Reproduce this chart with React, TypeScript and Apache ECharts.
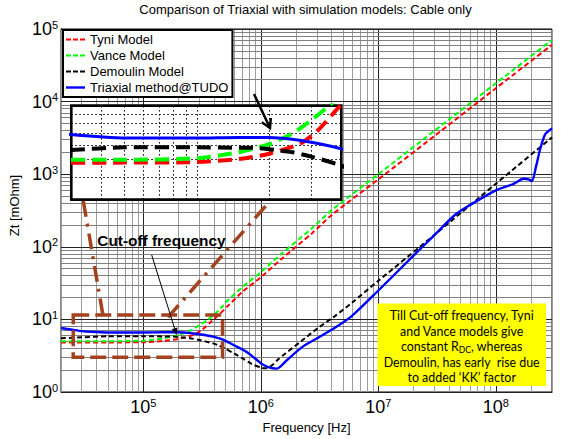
import React, { useEffect, useRef } from 'react';
import * as echarts from 'echarts';

const TITLE = 'Comparison of Triaxial with simulation models: Cable only';
const X_NAME = 'Frequency [Hz]';
const Y_NAME = 'Zt [mOhm]';
const NAME_TYNI = 'Tyni Model';
const NAME_VANCE = 'Vance Model';
const NAME_DEMOULIN = 'Demoulin Model';
const NAME_TRIAXIAL = 'Triaxial method@TUDO';

// Frequency [Hz] / transfer impedance Zt [mOhm]
const tyniFreq = [2e4, 5e4, 1e5, 1.5e5, 2e5, 2.7e5, 3.2e5, 3.8e5, 4.5e5, 5.28e5, 7e5, 1.02e6, 1.5e6, 2.72e6, 4.02e6, 1e7, 3e7, 1e8, 3e8];
const tyniZt = [4.8, 4.82, 4.85, 5.05, 5.4, 6.15, 7.3, 9.4, 12, 15.5, 24, 39, 68, 153, 275, 850, 3360, 15300, 60400];

const vanceFreq = [2e4, 5e4, 1e5, 1.5e5, 2e5, 2.5e5, 3e5, 3.5e5, 4e5, 4.5e5, 5.28e5, 7e5, 1.02e6, 1.5e6, 2.72e6, 4.02e6, 1e7, 3e7, 1e8, 3e8];
const vanceZt = [5.0, 5.0, 5.1, 5.5, 6.1, 7.0, 8.3, 9.8, 11.6, 13.9, 18.5, 28, 46, 80, 180, 320, 1000, 3960, 17900, 70700];

const demoulinFreq = [2e4, 3e4, 5e4, 1e5, 1.5e5, 1.83e5, 2.26e5, 2.51e5, 3e5, 3.93e5, 4.35e5, 5e5, 6.03e5, 7e5, 8.36e5, 1.02e6, 1.1e6, 1.24e6, 1.4e6, 1.6e6, 2.23e6, 3.1e6, 4.3e6, 5.97e6, 1e7, 3e7, 1e8, 3e8];
const demoulinZt = [5.5, 5.66, 5.86, 5.86, 5.83, 5.8, 5.6, 5.5, 5.2, 4.68, 4.4, 3.95, 3.34, 2.9, 2.44, 2.15, 2.12, 2.32, 2.8, 3.34, 5.08, 7.73, 11.2, 17.0, 34, 146, 740, 3214];

const triaxialFreq = [2e4, 2.5e4, 3e4, 4e4, 5e4, 7e4, 1e5, 1.5e5, 2e5, 2.5e5, 3e5, 3.5e5, 4e5, 4.65e5, 5.5e5, 6.44e5, 7.5e5, 8.36e5, 1.02e6, 1.16e6, 1.36e6, 1.45e6, 1.6e6, 2.23e6, 3.1e6, 4.3e6, 5.97e6, 1e7, 2e7, 3e7, 4.5e7, 6.25e7, 1e8, 1.4e8, 1.72e8, 1.9e8, 2.02e8, 2.2e8, 2.38e8, 2.63e8, 3e8];
const triaxialZt = [7.6, 7.2, 6.9, 6.7, 6.6, 6.6, 6.6, 6.65, 6.65, 6.5, 6.25, 6.0, 5.75, 5.35, 4.7, 4.12, 3.6, 3.17, 2.44, 2.2, 2.1, 2.2, 2.57, 4.12, 5.64, 7.73, 11.2, 25, 76, 145, 276, 390, 600, 730, 865, 850, 805, 1300, 2224, 3565, 4266];

// axis ranges and decade tick exponents
const X_MIN = 2e4;
const X_MAX = 3e8;
const Y_MIN = 1;
const Y_MAX = 1e5;
const X_DECADES = [5, 6, 7, 8];
const Y_DECADES = [0, 1, 2, 3, 4, 5];

// zoomed inset ranges
const INSET_X_MIN = 3e4;
const INSET_X_MAX = 4e5;
const INSET_Y_MIN = 3;
const INSET_Y_MAX = 10;
const INSET_Y_GRID = [4, 5, 6, 7, 8, 9];

// highlighted cut-off region (data coords)
const CUTOFF_F = [2.54e4, 4.73e5];
const CUTOFF_Z = [3.0, 11.5];

const FONT = 'Liberation Sans, Arial, Helvetica, sans-serif';
const BROWN = '#A3421F';
const ICON_DASHED = 'path://M0,0h5v2h-5zM7,0h5v2h-5zM14,0h5v2h-5z';
const ICON_SOLID = 'path://M0,0h19v2.4h-19z';

function logGrid(min: number, max: number) {
  const out: { v: number; major: boolean }[] = [];
  for (let e = Math.floor(Math.log10(min)); e <= Math.ceil(Math.log10(max)); e++) {
    for (let m = 1; m <= 9; m++) {
      const v = m * Math.pow(10, e);
      if (v >= min * 0.999 && v <= max * 1.001) out.push({ v, major: m === 1 });
    }
  }
  return out;
}

const pairs = (f: number[], z: number[]) => f.map((x, i) => [x, z[i]]);

function powLabel(decades: number[]) {
  return (v: number) => {
    const e = Math.log10(v);
    const r = Math.round(e);
    if (Math.abs(e - r) > 1e-6 || decades.indexOf(r) < 0) return '';
    return `{b|10}{s|${r}}`;
  };
}

const labelRich = {
  b: { fontSize: 18, fontFamily: FONT, color: '#000', lineHeight: 20 },
  s: { fontSize: 11, fontFamily: FONT, color: '#000', verticalAlign: 'top', lineHeight: 12 },
};

export default function App() {
  const ref = useRef<HTMLDivElement>(null);
  useEffect(() => {
    document.body.style.margin = '0';
    const chart = echarts.init(ref.current!, undefined, { renderer: 'svg' });

    const mainV = logGrid(X_MIN, X_MAX).map((g) => ({
      xAxis: g.v,
      lineStyle: { color: g.major ? '#222' : '#9c9c9c', width: 1, type: 'solid' },
    }));
    const mainH = logGrid(Y_MIN, Y_MAX).map((g) => ({
      yAxis: g.v,
      lineStyle: { color: g.major ? '#222' : '#808080', width: 1, type: 'solid' },
    }));
    const insetV = logGrid(INSET_X_MIN, INSET_X_MAX)
      .filter((g) => g.v > INSET_X_MIN * 1.01 && g.v < INSET_X_MAX * 0.99)
      .map((g) => ({ xAxis: g.v }));
    const insetH = INSET_Y_GRID.map((v) => ({ yAxis: v }));

    const line = (
      name: string,
      f: number[],
      z: number[],
      color: string,
      dashed: boolean,
      inset: boolean
    ) => ({
      type: 'line',
      name,
      data: pairs(f, z),
      xAxisIndex: inset ? 1 : 0,
      yAxisIndex: inset ? 1 : 0,
      showSymbol: false,
      symbol: 'none',
      smooth: 0.25,
      clip: true,
      silent: true,
      z: inset ? 7 : 3,
      itemStyle: { color },
      emphasis: { disabled: true },
      lineStyle: {
        color,
        width: inset ? (dashed ? 4 : 3) : dashed ? 2 : 2.4,
        type: dashed ? (inset ? [14, 7] : [5, 3]) : 'solid',
      },
    });

    const option: any = {
      animation: false,
      textStyle: { fontFamily: FONT },
      title: {
        text: TITLE,
        left: 305.5,
        top: 3,
        textAlign: 'center',
        padding: 0,
        textStyle: { fontSize: 13, fontWeight: 'normal', fontFamily: FONT, color: '#000' },
      },
      legend: {
        left: 63,
        top: 30,
        orient: 'vertical',
        data: [
          { name: NAME_TYNI, icon: ICON_DASHED },
          { name: NAME_VANCE, icon: ICON_DASHED },
          { name: NAME_DEMOULIN, icon: ICON_DASHED },
          { name: NAME_TRIAXIAL, icon: ICON_SOLID },
        ],
        itemWidth: 19,
        itemHeight: 14,
        itemGap: 3,
        padding: [3, 4, 3, 3],
        borderColor: '#000',
        borderWidth: 2,
        backgroundColor: '#fff',
        selectedMode: false,
        textStyle: { fontSize: 13, fontFamily: FONT, color: '#000' },
      },
      grid: [
        { left: 59, top: 29, right: 16, bottom: 44, show: true, borderColor: '#000', borderWidth: 1, backgroundColor: 'transparent', z: 0 },
        { left: 71.3, top: 105.6, width: 270, height: 94, show: true, borderColor: '#000', borderWidth: 2.6, backgroundColor: '#fff', z: 5 },
      ],
      xAxis: [
        {
          type: 'log',
          logBase: 10,
          gridIndex: 0,
          min: X_MIN,
          max: X_MAX,
          name: X_NAME,
          nameLocation: 'middle',
          nameGap: 29,
          nameTextStyle: { fontSize: 13, fontFamily: FONT, color: '#000' },
          axisLine: { show: true, lineStyle: { color: '#000', width: 1 } },
          axisTick: { show: true, inside: true, length: 6, lineStyle: { color: '#000' } },
          splitLine: { show: false },
          axisLabel: { formatter: powLabel(X_DECADES), rich: labelRich, margin: 5, hideOverlap: false },
        },
        { type: 'log', logBase: 10, gridIndex: 1, min: INSET_X_MIN, max: INSET_X_MAX, show: false, z: 6 },
      ],
      yAxis: [
        {
          type: 'log',
          logBase: 10,
          gridIndex: 0,
          min: Y_MIN,
          max: Y_MAX,
          name: Y_NAME,
          nameLocation: 'middle',
          nameGap: 30,
          nameTextStyle: { fontSize: 13, fontFamily: FONT, color: '#000', padding: [0, 0, 0, 10] },
          axisLine: { show: true, lineStyle: { color: '#000', width: 1 } },
          axisTick: { show: true, inside: true, length: 6, lineStyle: { color: '#000' } },
          splitLine: { show: false },
          axisLabel: { formatter: powLabel(Y_DECADES), rich: labelRich, margin: 3, hideOverlap: false },
        },
        { type: 'log', logBase: 10, gridIndex: 1, min: INSET_Y_MIN, max: INSET_Y_MAX, show: false, z: 6 },
      ],
      series: [
        {
          type: 'line',
          name: 'grid-main',
          data: [],
          xAxisIndex: 0,
          yAxisIndex: 0,
          z: 1,
          silent: true,
          markLine: {
            z: 1,
            silent: true,
            symbol: ['none', 'none'],
            label: { show: false },
            emphasis: { disabled: true },
            data: [...mainV, ...mainH],
          },
        },
        line(NAME_TYNI, tyniFreq, tyniZt, '#FF0000', true, false),
        line(NAME_VANCE, vanceFreq, vanceZt, '#00FF00', true, false),
        line(NAME_DEMOULIN, demoulinFreq, demoulinZt, '#000000', true, false),
        line(NAME_TRIAXIAL, triaxialFreq, triaxialZt, '#0000FF', false, false),
        {
          type: 'line',
          name: 'cutoff-region',
          data: [],
          xAxisIndex: 0,
          yAxisIndex: 0,
          z: 4,
          silent: true,
          markArea: {
            z: 4,
            silent: true,
            label: { show: false },
            itemStyle: { color: 'rgba(0,0,0,0)', borderColor: BROWN, borderWidth: 3.5, borderType: [16, 6] },
            emphasis: { disabled: true },
            data: [[{ coord: [CUTOFF_F[0], CUTOFF_Z[1]] }, { coord: [CUTOFF_F[1], CUTOFF_Z[0]] }]],
          },
        },
        {
          type: 'line',
          name: 'grid-inset',
          data: [],
          xAxisIndex: 1,
          yAxisIndex: 1,
          z: 6,
          silent: true,
          markLine: {
            z: 6,
            silent: true,
            symbol: ['none', 'none'],
            label: { show: false },
            emphasis: { disabled: true },
            lineStyle: { color: '#000', width: 1, type: [1.5, 2.5] },
            data: [...insetV, ...insetH],
          },
        },
        line(NAME_TYNI, tyniFreq, tyniZt, '#FF0000', true, true),
        line(NAME_VANCE, vanceFreq, vanceZt, '#00FF00', true, true),
        line(NAME_DEMOULIN, demoulinFreq, demoulinZt, '#000000', true, true),
        line(NAME_TRIAXIAL, triaxialFreq, triaxialZt, '#0000FF', false, true),
      ],
      graphic: [
        { type: 'line', z: 50, shape: { x1: 83.3, y1: 201, x2: 103.3, y2: 317.3 }, style: { stroke: BROWN, lineWidth: 3.5, lineDash: [16, 7, 3, 7] } },
        { type: 'line', z: 50, shape: { x1: 168, y1: 317.3, x2: 270, y2: 201 }, style: { stroke: BROWN, lineWidth: 3.5, lineDash: [16, 7, 3, 7] } },
        {
          type: 'text',
          z: 60,
          x: 97.3,
          y: 240,
          style: { text: 'Cut-off frequency', fontSize: 15.4, fontWeight: 'bold', fontFamily: FONT, fill: '#000', align: 'left', verticalAlign: 'middle' },
        },
        { type: 'line', z: 60, shape: { x1: 151.7, y1: 255, x2: 175.4, y2: 331 }, style: { stroke: '#000', lineWidth: 1 } },
        { type: 'polygon', z: 60, shape: { points: [[176.7, 335], [171.7, 329.2], [177.5, 327.4]] }, style: { fill: '#000' } },
        { type: 'line', z: 60, shape: { x1: 254, y1: 94, x2: 270, y2: 128 }, style: { stroke: '#000', lineWidth: 2.5 } },
        { type: 'polyline', z: 60, shape: { points: [[261.8, 122.3], [270, 128], [270.8, 118]] }, style: { stroke: '#000', lineWidth: 2.5, fill: null } },
        { type: 'rect', z: 60, shape: { x: 377.5, y: 303.5, width: 168.5, height: 82.5 }, style: { fill: '#FFFF00' } },
        ...[
          'Till Cut-off frequency, Tyni',
          'and Vance models give',
          'constant R{sub|DC}, whereas',
          'Demoulin, has early  rise due',
          'to added \u2018KK\u2019 factor',
        ].map((t, i) => ({
          type: 'text',
          z: 61,
          x: 461.7,
          y: [315, 331, 346.7, 362.5, 377.5][i],
          style: {
            text: t,
            fontSize: 12.4,
            fontFamily: 'Lato, Carlito, sans-serif',
            fill: '#000',
            align: 'center',
            verticalAlign: 'middle',
            rich: {
              sub: { fontSize: 8.5, fontFamily: 'Lato, sans-serif', fill: '#000', color: '#000', verticalAlign: 'bottom', padding: [6, 0, 0, 0] },
            },
          },
        })),
      ],
    };

    chart.setOption(option);
    return () => chart.dispose();
  }, []);

  return <div ref={ref} style={{ position: 'absolute', left: 0, top: 0, width: 568, height: 439 }} />;
}
